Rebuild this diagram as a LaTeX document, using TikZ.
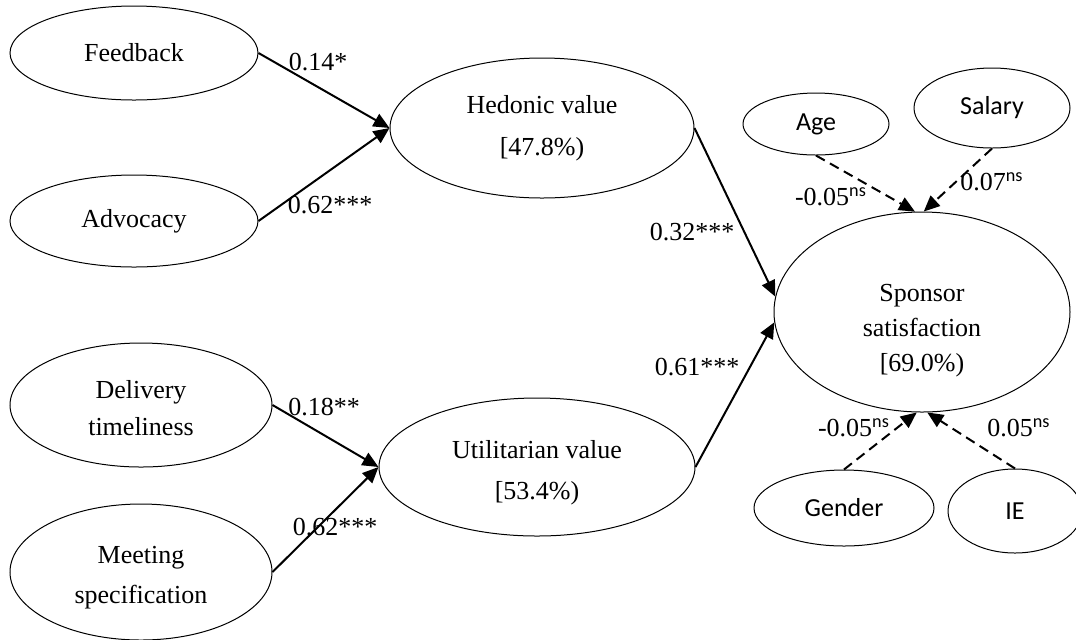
\documentclass[tikz,border=0pt]{standalone}
\usepackage{fontspec}
\setmainfont{Liberation Serif}
\setsansfont{Carlito}
\usepackage{tikz}
\usetikzlibrary{shapes.geometric,arrows.meta}

\newcommand{\nsmark}{\textsuperscript{\sffamily ns}}

\begin{document}
\begin{tikzpicture}[x=1pt, y=1pt,
  latent/.style={draw, ellipse, line width=0.5pt, inner sep=0pt, align=center,
    font=\fontsize{13}{17}\selectfont},
  control/.style={latent, font=\fontsize{13}{15}\sffamily},
  coef/.style={inner sep=0pt, font=\fontsize{13}{15}\selectfont},
  path/.style={-{Triangle[length=8pt,width=7pt]}, line width=1pt},
  ctrlpath/.style={path, dash pattern=on 5pt off 3pt}]
  \useasboundingbox (0,0) rectangle (538,-319.5);

  % Nodes
  \node[latent, minimum width=124pt, minimum height=47pt] (feedback) at (67,-26.5) {Feedback};
  \node[latent, minimum width=124pt, minimum height=46pt] (advocacy) at (67,-110.5) {Advocacy};
  \node[latent, minimum width=131pt, minimum height=62pt] (delivery) at (70.5,-202.5) {\rule{0pt}{12pt}Delivery\\[1.5pt]timeliness};
  \node[latent, minimum width=131pt, minimum height=68pt] (meeting) at (70.5,-286) {\rule{0pt}{14pt}Meeting\\[3pt]specification};
  \node[latent, minimum width=152pt, minimum height=70pt] (hedonic) at (271,-64) {Hedonic value\\[4pt]{[}47.8\%)};
  \node[latent, minimum width=158pt, minimum height=69pt] (utilitarian) at (268.5,-233.5) {\rule{0pt}{15pt}Utilitarian value\\[3.5pt]{[}53.4\%)};
  \node[latent, minimum width=148pt, minimum height=100pt] (sponsor) at (461,-156) {\rule{0pt}{27pt}Sponsor\\[0.5pt]satisfaction\\[0.5pt]{[}69.0\%)};
  \node[control, minimum width=73pt, minimum height=31pt] (age) at (408,-62) {Age};
  \node[control, minimum width=78pt, minimum height=40pt] (salary) at (496,-54) {Salary};
  \node[control, minimum width=90pt, minimum height=38pt] (gender) at (422,-254) {Gender};
  \node[control, minimum width=67pt, minimum height=42pt] (ie) at (507.5,-255.5) {IE};

  % Arrows
  \draw[path] (feedback.east) -- (hedonic.west);
  \draw[path] (advocacy.east) -- (hedonic.west);
  \draw[path] (delivery.east) -- (utilitarian.west);
  \draw[path] (meeting.east) -- (utilitarian.west);
  \draw[path] (hedonic.east) -- (sponsor.174);
  \draw[path] (utilitarian.east) -- (sponsor.184);
  \draw[ctrlpath] (age.south) -- (sponsor.94);
  \draw[ctrlpath] (salary.south) -- (sponsor.89);
  \draw[ctrlpath] (gender.north) -- (sponsor.267);
  \draw[ctrlpath] (ie.north) -- (sponsor.273);

  % Coefficients
  \node[coef] (c1) at (159,-31) {0.14*};
  \node[coef] (c2) at (165,-102.5) {0.62***};
  \node[coef] (c3) at (162,-203.5) {0.18**};
  \node[coef] (c4) at (167.5,-263.5) {0.62***};
  \node[coef] (c5) at (346,-116) {0.32***};
  \node[coef] (c6) at (348.5,-183.5) {0.61***};
  \node[coef] (c7) at (415.5,-98.5) {-0.05\nsmark};
  \node[coef] (c8) at (496,-91) {0.07\nsmark};
  \node[coef] (c9) at (427,-214) {-0.05\nsmark};
  \node[coef] (c10) at (509.5,-214) {0.05\nsmark};
\end{tikzpicture}
\end{document}
